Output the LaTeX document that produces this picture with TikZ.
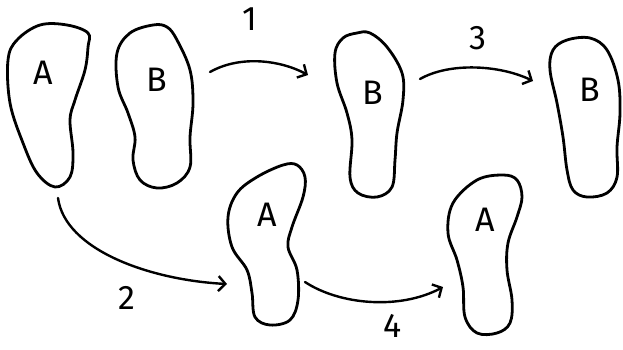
\documentclass[tikz,border=0pt]{standalone}
\usepackage{fontspec}
\setmainfont{Fira Sans}
\usetikzlibrary{arrows.meta}
\tikzset{
  sole/.style={line width=2.8pt, line join=round, line cap=round},
  lbl/.style={font=\fontsize{34}{34}\selectfont, inner sep=0pt},
  num/.style={font=\fontsize{34}{34}\selectfont, inner sep=0pt},
  move/.style={line width=2.4pt, line cap=round, -{Straight Barb[length=7pt,width=15pt,line width=2.4pt]}}
}
\begin{document}
\begin{tikzpicture}[x=1pt,y=-1pt]
\useasboundingbox (0,0) rectangle (623,349);
% soles
\draw[sole] plot[smooth cycle, tension=0.6] coordinates {(88,33) (67,25) (40,25) (17,40) (8,60) (10,103) (23,143) (37,173) (55,187) (70,177) (73,153) (70,120) (75,100) (85,70) (88,47)};
\draw[sole] plot[smooth cycle, tension=0.6] coordinates {(153,25) (130,33) (117,53) (118,87) (128,113) (135,137) (133,160) (140,180) (157,188) (177,183) (190,167) (190,137) (193,103) (190,70) (177,40) (167,27)};
\draw[sole] plot[smooth cycle, tension=0.6] coordinates {(357,33) (343,38) (335,53) (337,83) (347,113) (352,140) (350,177) (358,193) (377,197) (392,187) (395,160) (397,133) (403,100) (402,73) (387,47) (370,33)};
\draw[sole] plot[smooth cycle, tension=0.6] coordinates {(567,40) (553,50) (550,70) (557,103) (563,137) (567,170) (573,190) (587,197) (607,193) (617,177) (617,147) (620,113) (618,80) (607,50) (590,38)};
\draw[sole] plot[smooth cycle, tension=0.6] coordinates {(297,165) (283,165) (257,177) (237,193) (228,217) (232,247) (247,270) (252,293) (255,317) (270,325) (290,320) (298,300) (297,270) (288,247) (292,227) (303,197) (305,177)};
\draw[sole] plot[smooth cycle, tension=0.6] coordinates {(503,175) (477,180) (453,203) (448,233) (457,260) (463,287) (465,317) (477,333) (497,333) (510,323) (512,300) (507,270) (508,243) (517,217) (522,197) (517,180)};
% labels
\node[lbl] (A1) at (43,73) {A};
\node[lbl] (B1) at (157,80) {B};
\node[lbl] (B2) at (373,93) {B};
\node[lbl] (B3) at (590,90) {B};
\node[lbl] (A2) at (267,215) {A};
\node[lbl] (A3) at (485,220) {A};
% arrow end points
\coordinate (m1s) at (210,72);
\coordinate (m1e) at (308,75);
\coordinate (m3s) at (420,79);
\coordinate (m3e) at (533,81);
\coordinate (m2s) at (58,198);
\coordinate (m2e) at (227,284);
\coordinate (m4s) at (305,282);
\coordinate (m4e) at (443,287);
\draw[move] (m1s) .. controls (240,55) and (280,60) .. (m1e);
\draw[move] (m3s) .. controls (450,62) and (500,65) .. (m3e);
\draw[move] (m2s) .. controls (65,250) and (150,280) .. (m2e);
\draw[move] (m4s) .. controls (340,305) and (400,310) .. (m4e);
\node[num] (n1) at (250,19) {1};
\node[num] (n3) at (478,38) {3};
\node[num] (n2) at (127,298) {2};
\node[num] (n4) at (393,326) {4};
\end{tikzpicture}
\end{document}
